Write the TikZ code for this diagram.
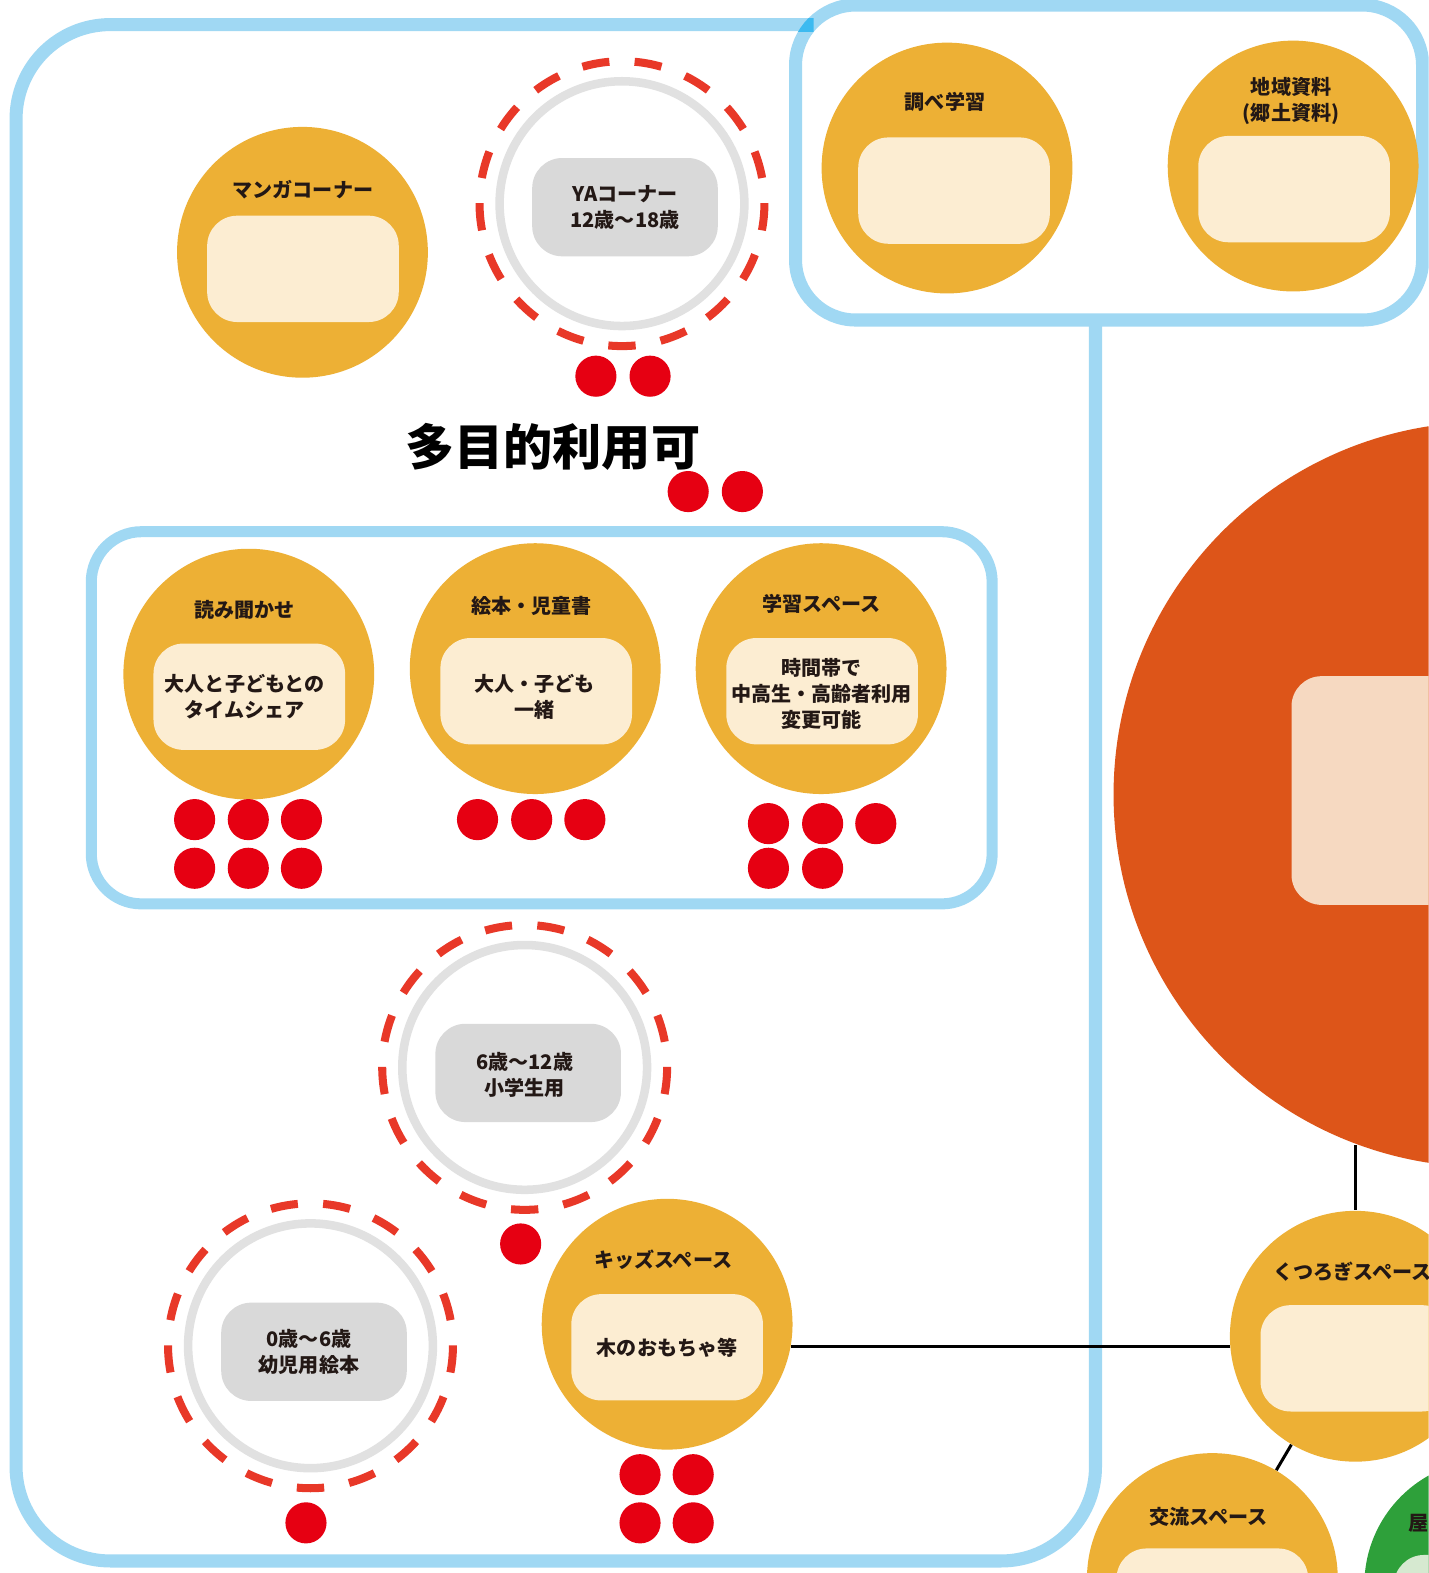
\documentclass[tikz,border=0pt]{standalone}
\usepackage{fontspec}
\newfontfamily\jp{Noto Sans CJK JP}
\usetikzlibrary{calc}
\definecolor{frameblue}{RGB}{160,216,243}
\definecolor{framedark}{RGB}{60,186,240}
\definecolor{orangeC}{RGB}{237,176,53}
\definecolor{creamC}{RGB}{252,237,210}
\definecolor{grayring}{RGB}{225,225,225}
\definecolor{grayrect}{RGB}{217,217,217}
\definecolor{dashred}{RGB}{232,56,40}
\definecolor{dotred}{RGB}{230,0,18}
\definecolor{bigorange}{RGB}{221,85,25}
\definecolor{bigpale}{RGB}{246,217,193}
\definecolor{greenC}{RGB}{46,160,58}
\definecolor{palegreen}{RGB}{214,233,208}
\definecolor{txt}{RGB}{35,24,21}
\begin{document}
\begin{tikzpicture}[x=0.5pt,y=-0.5pt,
  frame/.style={draw=frameblue,line width=6.5pt},
  spot/.style={circle,fill=orangeC,minimum size=125pt,inner sep=0pt},
  greenspot/.style={circle,fill=greenC,minimum size=125pt,inner sep=0pt},
  inbox/.style={rectangle,rounded corners=15pt,fill=creamC,minimum width=95.5pt,minimum height=53pt,inner sep=0pt},
  agebox/.style={rectangle,rounded corners=15pt,fill=grayrect,minimum width=92.5pt,minimum height=49pt,inner sep=0pt},
  ring/.style={circle,draw=grayring,line width=4.25pt,minimum size=122pt,inner sep=0pt},
  lbl/.style={font=\jp\bfseries\fontsize{10pt}{12.9pt}\selectfont,text=txt,align=center,inner sep=0pt},
  dot/.style={circle,fill=dotred,minimum size=20.5pt,inner sep=0pt},
  dashseg/.style={draw=dashred,line width=4pt},
  conn/.style={draw=black,line width=1.5pt},
]
\clip (0,0) rectangle (1424,1568);
\fill[white] (0,0) rectangle (1424,1568);

% frames
\draw[frame,rounded corners=47pt] (16,24.5) rectangle (1092,1556);
\filldraw[frame,fill=white,rounded corners=30pt] (793,5) rectangle (1418,319);
\begin{scope}
  \clip (780,18) rectangle (811,31);
  \draw[draw=framedark,line width=6.5pt,rounded corners=30pt] (793,5) rectangle (1418,319);
\end{scope}
\draw[frame,line width=5.5pt,rounded corners=25pt] (91,530) rectangle (989,901);

% big circle
\node[circle,fill=bigorange,minimum size=371.5pt,inner sep=0pt] (bigc) at (1481.5,792) {};
\node[rectangle,rounded corners=15pt,fill=bigpale,minimum width=200pt,minimum height=114pt,inner sep=0pt,anchor=west] (bigbox) at (1287,788) {};

% orange spots
\node[spot] (manga) at (301.5,251.5) {};
\node[inbox] (mangabox) at (302,268) {};
\node[lbl] (mangaT) at (302,189) {マンガコーナー};

\node[spot] (shirabe) at (944,167.5) {};
\node[inbox] (shirabebox) at (951,190) {};
\node[lbl] (shirabeT) at (942,102) {調べ学習};

\node[spot] (chiiki) at (1289,165.5) {};
\node[inbox] (chiikibox) at (1290,188.5) {};
\node[lbl] (chiikiT) at (1287,100.5) {地域資料\\(郷土資料)};

\node[spot] (yomi) at (248,672) {};
\node[inbox] (yomibox) at (248.5,694.5) {};
\node[lbl] (yomiT) at (244,608) {読み聞かせ};
\node[lbl] (yomiX) at (244,694.5) {大人と子どもとの\\タイムシェア};

\node[spot] (ehon) at (533.5,666.5) {};
\node[inbox] (ehonbox) at (534.5,689) {};
\node[lbl] (ehonT) at (530,604) {絵本・児童書};
\node[lbl] (ehonX) at (533,694.5) {大人・子ども\\一緒};

\node[spot] (gaku) at (818.5,666.5) {};
\node[inbox] (gakubox) at (819.5,689) {};
\node[lbl] (gakuT) at (819,602) {学習スペース};
\node[lbl] (gakuX) at (819,692) {時間帯で\\中高生・高齢者利用\\変更可能};

\node[spot] (kids) at (665,1320) {};
\node[inbox] (kidsbox) at (665,1343) {};
\node[lbl] (kidsT) at (661,1256) {キッズスペース};
\node[lbl] (kidsX) at (665,1343) {木のおもちゃ等};

\node[spot] (kutsu) at (1351,1332) {};
\node[inbox] (kutsubox) at (1352,1354) {};
\node[lbl] (kutsuT) at (1348,1268) {くつろぎスペース};

\node[spot] (koryu) at (1208.5,1573.5) {};
\node[inbox] (koryubox) at (1208.5,1596.5) {};
\node[lbl] (koryuT) at (1205,1512) {交流スペース};

\node[greenspot] (green) at (1485,1580) {};
\node[inbox,fill=palegreen] (greenbox) at (1485,1603) {};
\node[lbl,anchor=west] (greenT) at (1404,1518) {屋};

% age rings
\node[ring] (ya) at (620,203) {};
\node[agebox] (yabox) at (623,206.5) {};
\node[lbl] (yaX) at (623,207) {YAコーナー\\12歳～18歳};

\node[ring] (six) at (523,1064) {};
\node[agebox] (sixbox) at (526.5,1069.5) {};
\node[lbl] (sixX) at (523,1071.5) {6歳～12歳\\小学生用};

\node[ring] (zero) at (309.5,1341.5) {};
\node[agebox] (zerobox) at (313,1347.5) {};
\node[lbl] (zeroX) at (308,1347.5) {0歳～6歳\\幼児用絵本};

\foreach \r in {ya,six,zero}{
  \foreach \k in {0,...,16}{
    \draw[dashseg] ([shift={({90+\k*360/17-5.5}:142)}]\r.center)
      arc[start angle={90+\k*360/17-5.5}, delta angle=11, radius=142];
  }
}

% title
\node[font=\jp\bfseries\fontsize{24.5pt}{28pt}\selectfont,text=black,inner sep=0pt] (title) at (551,445) {多目的利用可};

% dots
\foreach \n/\x/\y in {ya1/594/375, ya2/648/375, ti1/686/490, ti2/740/490,
  yo1/194/817, yo2/247.5/817, yo3/300.5/817, yo4/194/865.5, yo5/247.5/865.5, yo6/300.5/865.5,
  eh1/476/817, eh2/530/817, eh3/583/817,
  ga1/766/821, ga2/820/821, ga3/873/821, ga4/766/865.5, ga5/820/865.5,
  si1/519/1240, ze1/305/1518,
  ki1/638/1470, ki2/691/1470, ki3/638/1518, ki4/691/1518}{
  \node[dot] (\n) at (\x,\y) {};
}

% connectors
\draw[conn] (kids.-10.6) -- (kids.-10.6 -| kutsu.west);
\draw[conn] (kutsu.north |- bigc.-110.6) -- (kutsu.north);
\draw[conn] (kutsu) -- (koryu);
\end{tikzpicture}
\end{document}
